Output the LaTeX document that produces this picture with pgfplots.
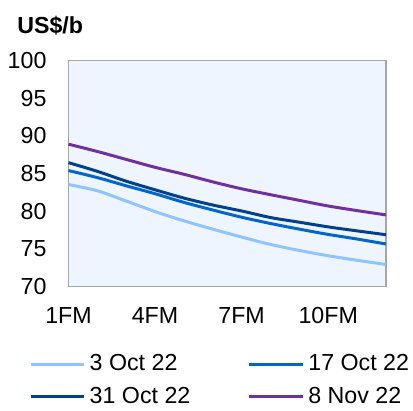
\documentclass[border=0pt]{standalone}
\usepackage{fontspec}
\setmainfont{Liberation Sans}
\usepackage{pgfplots}
\pgfplotsset{compat=1.18}
\definecolor{lb}{RGB}{142,196,255}
\definecolor{mb}{RGB}{0,102,204}
\definecolor{nb}{RGB}{0,64,140}
\definecolor{pu}{RGB}{112,48,160}
\definecolor{bg}{RGB}{238,245,255}
\definecolor{ax}{RGB}{166,166,166}
\begin{document}
\fontsize{11.7}{14}\selectfont
\begin{tikzpicture}
\begin{axis}[
  name=a,
  scale only axis, width=160pt, height=114pt,
  xmin=1, xmax=12, ymin=70, ymax=100,
  xtick={1,4,7,10}, xticklabels={1FM,4FM,7FM,10FM},
  ytick={70,75,80,85,90,95,100},
  major tick length=0pt,
  axis line style={ax, line width=0.8pt},
  axis background/.style={fill=bg},
  /pgf/number format/assume math mode=true,
  tick label style={font=\fontsize{11.7}{14}\selectfont},
  yticklabel style={xshift=-7pt},
  xticklabel style={yshift=-6.5pt},
  legend columns=2,
  legend image code/.code={\draw[#1] (0pt,0pt) -- (27pt,0pt);},
  legend style={at={(axis description cs:0,0)}, anchor=north west, xshift=-20pt, yshift=-32pt,
    draw=none, fill=none, inner sep=0pt, row sep=2.5pt,
    font=\fontsize{11.7}{14}\selectfont,
    /tikz/every even column/.append style={column sep=27pt}},
  legend cell align=left,
  clip=false,
]
\addplot[lb, line width=1.5pt, smooth] coordinates {(1,83.55)(2,82.72)(3,81.36)(4,79.96)(5,78.73)(6,77.63)(7,76.58)(8,75.6)(9,74.8)(10,74.1)(11,73.5)(12,72.94)};
\addlegendentry{3 Oct 22}
\addplot[mb, line width=1.5pt, smooth] coordinates {(1,85.4)(2,84.47)(3,83.38)(4,82.33)(5,81.18)(6,80.17)(7,79.21)(8,78.38)(9,77.63)(10,76.93)(11,76.32)(12,75.66)};
\addlegendentry{17 Oct 22}
\addplot[nb, line width=1.5pt, smooth] coordinates {(1,86.45)(2,85.3)(3,83.99)(4,82.85)(5,81.75)(6,80.83)(7,80.04)(8,79.17)(9,78.55)(10,77.93)(11,77.4)(12,76.89)};
\addlegendentry{31 Oct 22}
\addplot[pu, line width=1.5pt, smooth] coordinates {(1,88.9)(2,87.93)(3,86.88)(4,85.83)(5,84.91)(6,83.9)(7,82.98)(8,82.2)(9,81.45)(10,80.7)(11,80.09)(12,79.52)};
\addlegendentry{8 Nov 22}
\node[anchor=base west, font=\bfseries\fontsize{11.7}{14}\selectfont, inner sep=0pt] at (rel axis cs:0,1) [xshift=-26pt, yshift=13.5pt] {US\$/b};
\end{axis}
\path (a.south west) ++(-33.5pt,-57pt) coordinate (bbsw);
\path (a.north east) ++(13pt,30.5pt) coordinate (bbne);
\path (bbsw) rectangle (bbne);
\end{tikzpicture}
\end{document}
